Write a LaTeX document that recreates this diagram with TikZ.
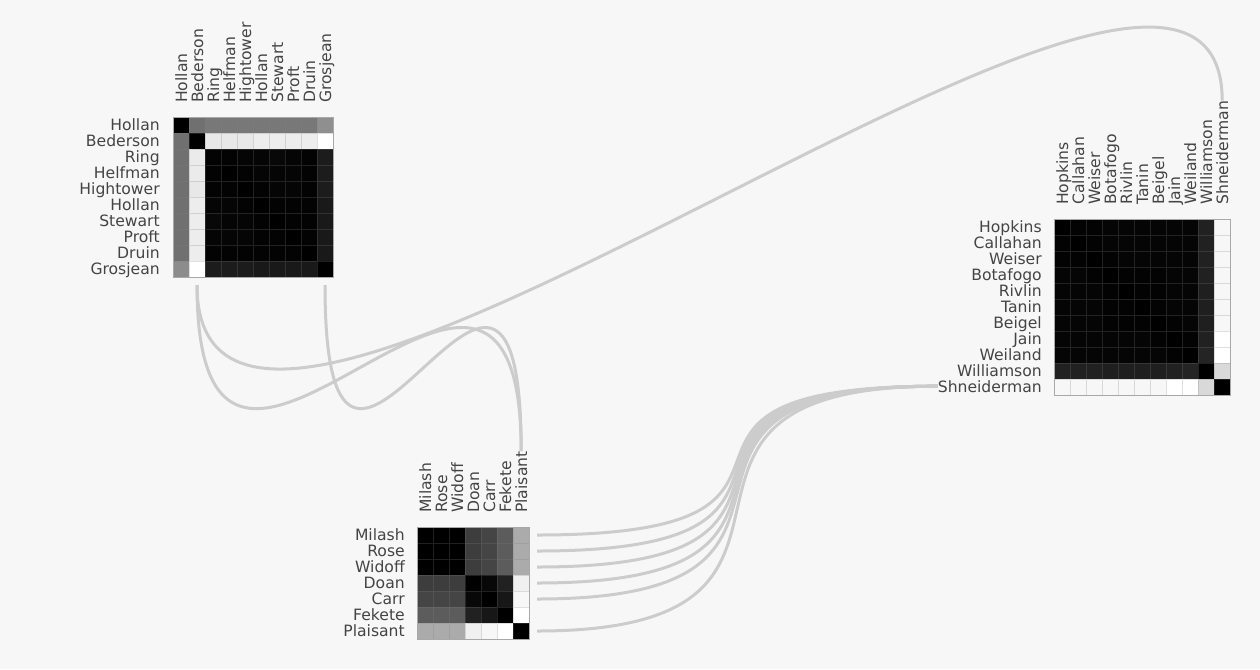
\documentclass[tikz,border=0pt]{standalone}
\usepackage{fontspec}
\setmainfont{DejaVu Sans}
\definecolor{bgcol}{HTML}{F7F7F7}
\definecolor{linkcol}{HTML}{CCCCCC}
\definecolor{labelcol}{HTML}{444444}
\definecolor{framecol}{HTML}{A8A8A8}
\tikzset{
  cell/.style={draw=gray, draw opacity=0.25, line width=0.4pt},
  mframe/.style={draw=framecol, line width=0.75pt},
  link/.style={draw=linkcol, line width=2.25pt},
  rowlabel/.style={anchor=base east, inner sep=0pt, text=labelcol, font=\fontsize{11.7}{14}\selectfont},
  collabel/.style={rowlabel, anchor=base west, rotate=90},
}
\begin{document}
\begin{tikzpicture}[x=0.75pt, y=-0.75pt]
    % Background
    \useasboundingbox (0,0) rectangle (1260,669);
    \fill[bgcol] (0,0) rectangle (1260,669);

    % First group
    \begin{scope}[shift={(173,117)}]
        \foreach \vals [count=\i from 0] in {
            {0,44,47,47,47,47,47,47,47,56},
            {44,0,91,91,91,93,93,93,93,100},
            {44,92,1,1,2,2,3,2,1,11},
            {44,92,1,0,1,2,2,2,1,11},
            {44,91,1,1,0,1,2,2,1,11},
            {44,93,2,2,1,0,1,1,1,10},
            {44,93,3,2,2,1,0,1,1,10},
            {44,93,2,2,2,1,1,0,1,10},
            {44,93,1,1,1,1,1,1,0,10},
            {55,100,11,11,11,10,10,10,10,0}}
            \foreach \v [count=\j from 0] in \vals
                \filldraw[cell, fill=white!\v!black] (16*\j,16*\i) rectangle ++(16,16);
        \draw[mframe] (0,0) rectangle (160,160);
        \foreach \name [count=\i from 0] in {Hollan,Bederson,Ring,Helfman,Hightower,Hollan,Stewart,Proft,Druin,Grosjean} {
            \node[rowlabel] (A-r\i) at (-13,16*\i+13) {\name};
            \node[collabel] (A-c\i) at (16*\i+14,-14) {\name};
            \coordinate (A-b\i) at (16*\i+8,168);
        }
    \end{scope}

    % Second group
    \begin{scope}[shift={(417,527)}]
        \foreach \vals [count=\i from 0] in {
            {0,0,0,24,27,36,67},
            {0,0,0,24,27,36,67},
            {0,0,0,24,27,36,67},
            {24,24,24,0,3,13,94},
            {27,27,27,3,0,9,97},
            {36,36,36,13,9,0,100},
            {67,67,67,94,97,100,0}}
            \foreach \v [count=\j from 0] in \vals
                \filldraw[cell, fill=white!\v!black] (16*\j,16*\i) rectangle ++(16,16);
        \draw[mframe] (0,0) rectangle (112,112);
        \foreach \name [count=\i from 0] in {Milash,Rose,Widoff,Doan,Carr,Fekete,Plaisant} {
            \node[rowlabel] (B-r\i) at (-12,16*\i+13) {\name};
            \node[collabel] (B-c\i) at (16*\i+14,-14) {\name};
            \coordinate (B-e\i) at (120,16*\i+8);
        }
    \end{scope}

    % Third group
    \begin{scope}[shift={(1054,219)}]
        \foreach \vals [count=\i from 0] in {
            {0,1,1,2,2,2,2,2,2,13,97},
            {1,0,1,2,2,2,2,2,2,13,97},
            {1,1,0,1,2,2,2,2,2,13,97},
            {2,2,1,0,1,1,1,2,2,13,97},
            {2,2,2,1,0,1,1,2,2,12,97},
            {2,2,2,1,1,0,1,2,2,12,97},
            {2,2,2,1,1,1,0,1,2,12,97},
            {2,2,2,2,2,2,1,0,1,13,100},
            {2,2,2,2,2,2,2,1,0,14,100},
            {13,13,13,12,12,12,12,13,14,0,85},
            {97,97,97,97,97,97,97,100,100,85,0}}
            \foreach \v [count=\j from 0] in \vals
                \filldraw[cell, fill=white!\v!black] (16*\j,16*\i) rectangle ++(16,16);
        \draw[mframe] (0,0) rectangle (176,176);
        \foreach \name [count=\i from 0] in {Hopkins,Callahan,Weiser,Botafogo,Rivlin,Tanin,Beigel,Jain,Weiland,Williamson,Shneiderman} {
            \node[rowlabel] (C-r\i) at (-12,16*\i+13) {\name};
            \node[collabel] (C-c\i) at (16*\i+14,-14) {\name};
        }
    \end{scope}

    % Links between groups
    \draw[link] (A-b1) .. controls +(0,345) and +(0,-345) .. (B-c6.east);
    \draw[link] (A-b9) .. controls +(0,345) and +(0,-345) .. (B-c6.east);
    \draw[link] (A-b1) .. controls +(0,345) and +(0,-320) .. (C-c10.east);
    \foreach \i in {0,1,2,3,4,6}
        \draw[link] (B-e\i) .. controls +(345,0) and +(-345,0) .. (C-r10.west);
\end{tikzpicture}
\end{document}
